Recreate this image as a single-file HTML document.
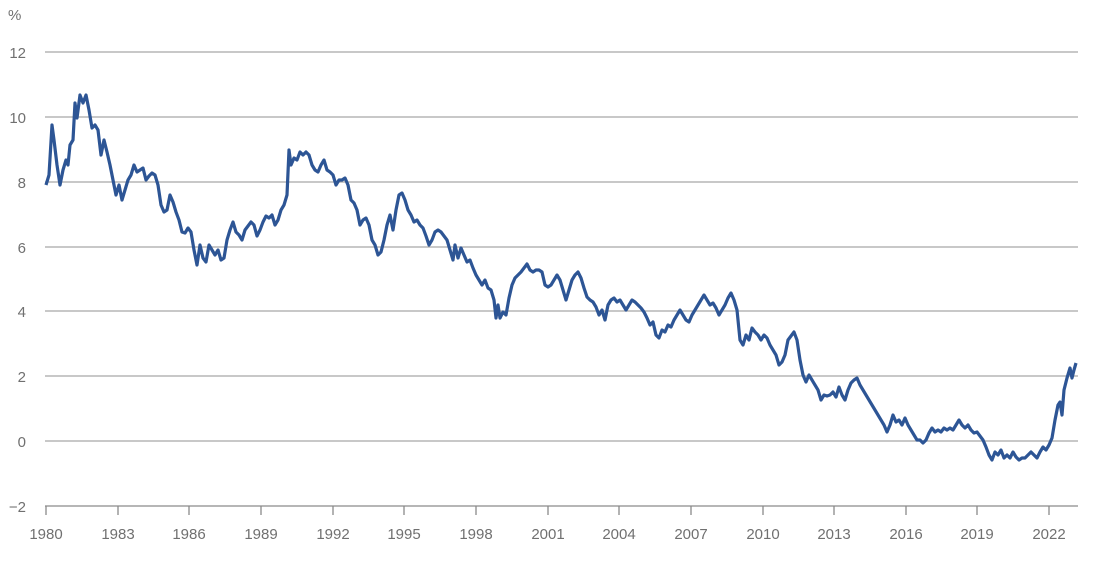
<!DOCTYPE html>
<html><head><meta charset="utf-8"><style>
html,body{margin:0;padding:0;background:#fff;}
text{font-family:"Liberation Sans",sans-serif;fill:#707070;font-size:15px;}
</style></head><body>
<svg width="1106" height="559" xmlns="http://www.w3.org/2000/svg">
<g stroke="#a6a6a6" stroke-width="1.3">
<line x1="45" y1="52" x2="1078" y2="52"/>
<line x1="45" y1="117" x2="1078" y2="117"/>
<line x1="45" y1="182" x2="1078" y2="182"/>
<line x1="45" y1="247" x2="1078" y2="247"/>
<line x1="45" y1="311" x2="1078" y2="311"/>
<line x1="45" y1="376" x2="1078" y2="376"/>
<line x1="45" y1="441" x2="1078" y2="441"/>
</g>
<g stroke="#8a8a8a" stroke-width="1.3">
<line x1="45" y1="506" x2="1078" y2="506"/>
<line x1="46" y1="506" x2="46" y2="515"/><line x1="118" y1="506" x2="118" y2="515"/>
<line x1="189" y1="506" x2="189" y2="515"/><line x1="261" y1="506" x2="261" y2="515"/>
<line x1="333" y1="506" x2="333" y2="515"/><line x1="404" y1="506" x2="404" y2="515"/>
<line x1="476" y1="506" x2="476" y2="515"/><line x1="548" y1="506" x2="548" y2="515"/>
<line x1="619" y1="506" x2="619" y2="515"/><line x1="691" y1="506" x2="691" y2="515"/>
<line x1="763" y1="506" x2="763" y2="515"/><line x1="834" y1="506" x2="834" y2="515"/>
<line x1="906" y1="506" x2="906" y2="515"/><line x1="977" y1="506" x2="977" y2="515"/>
<line x1="1049" y1="506" x2="1049" y2="515"/>
</g>
<text x="8" y="20">%</text>
<g text-anchor="end">
<text x="26" y="58">12</text><text x="26" y="123">10</text><text x="26" y="188">8</text>
<text x="26" y="253">6</text><text x="26" y="317">4</text><text x="26" y="382">2</text>
<text x="26" y="447">0</text><text x="26" y="512">−2</text>
</g>
<g text-anchor="middle">
<text x="46" y="539">1980</text><text x="118" y="539">1983</text><text x="189" y="539">1986</text>
<text x="261" y="539">1989</text><text x="333" y="539">1992</text><text x="404" y="539">1995</text>
<text x="476" y="539">1998</text><text x="548" y="539">2001</text><text x="619" y="539">2004</text>
<text x="691" y="539">2007</text><text x="763" y="539">2010</text><text x="834" y="539">2013</text>
<text x="906" y="539">2016</text><text x="977" y="539">2019</text><text x="1049" y="539">2022</text>
</g>
<polyline fill="none" stroke="#2d5595" stroke-width="3.2" stroke-linejoin="round" points="46,185 49,175 52,125 54,140 57,165 60,185 63,170 66,160 68,165 70,145 73,140 75,103 77,118 80,95 83,103 86,95 89,110 92,128 95,125 98,130 101,155 104,140 107,152 110,165 113,180 116,195 119,185 122,200 125,190 128,180 131,175 134,165 137,172 140,170 143,168 146,180 149,176 152,173 155,175 158,185 161,205 164,212 167,210 170,195 173,202 176,212 179,220 182,232 185,233 188,228 191,232 194,250 197,265 200,245 203,258 206,262 209,245 212,250 215,255 218,250 221,260 224,258 227,240 230,230 233,222 236,232 239,235 242,240 245,230 248,226 251,222 254,225 257,236 260,230 263,222 266,216 269,218 272,215 275,225 278,220 281,210 284,205 287,195 289,150 291,165 294,158 297,160 300,152 303,155 306,152 309,155 312,165 315,170 318,172 321,165 324,160 327,170 330,172 333,175 336,185 339,180 342,180 345,178 348,185 351,200 354,203 357,210 360,225 363,220 366,218 369,225 372,240 375,245 378,255 381,252 384,240 387,225 390,215 393,230 396,210 399,195 402,193 405,200 408,210 411,215 414,222 417,220 420,225 423,228 426,236 429,245 432,240 435,232 438,230 441,232 444,236 447,240 450,250 453,260 455,245 458,258 461,248 464,255 467,262 470,260 473,268 476,275 479,280 482,285 485,280 488,288 491,290 494,300 496,318 498,305 500,318 503,312 506,315 509,298 512,285 515,278 518,275 521,272 524,268 527,264 530,270 533,272 536,270 539,270 542,272 545,285 548,287 551,285 554,280 557,275 560,280 563,290 566,300 569,290 572,280 575,275 578,272 581,278 584,288 587,297 590,300 593,302 596,307 599,315 602,310 605,320 608,305 611,300 614,298 617,302 620,300 623,305 626,310 629,305 632,300 635,302 638,305 641,308 644,312 647,318 650,325 653,322 656,335 659,338 662,330 665,332 668,325 671,327 674,320 677,315 680,310 683,315 686,320 689,322 692,315 695,310 698,305 701,300 704,295 707,300 710,305 713,303 716,308 719,315 722,310 725,305 728,298 731,293 734,300 737,310 740,340 743,345 746,335 749,340 752,328 755,332 758,335 761,340 764,335 767,338 770,345 773,350 776,355 779,365 782,362 785,355 788,340 791,336 794,332 797,340 800,360 803,375 806,382 809,375 812,380 815,385 818,390 821,400 824,395 827,396 830,395 833,392 836,397 839,387 842,395 845,400 848,390 851,383 854,380 857,378 860,385 863,390 866,395 869,400 872,405 875,410 878,415 881,420 884,425 887,432 890,425 893,415 896,422 899,420 902,425 905,418 908,425 911,430 914,435 917,440 920,440 923,443 926,440 929,433 932,428 935,432 938,430 941,432 944,428 947,430 950,428 953,430 956,425 959,420 962,425 965,428 968,425 971,430 974,433 977,432 980,436 983,440 986,447 989,455 992,460 995,452 998,455 1001,450 1004,458 1007,455 1010,458 1013,452 1016,457 1019,460 1022,458 1025,458 1028,455 1031,452 1034,455 1037,458 1040,452 1043,447 1046,450 1049,445 1052,438 1055,420 1058,405 1060,402 1062,415 1064,390 1067,378 1070,368 1072,378 1074,370 1076,363"/>
</svg>
</body></html>
